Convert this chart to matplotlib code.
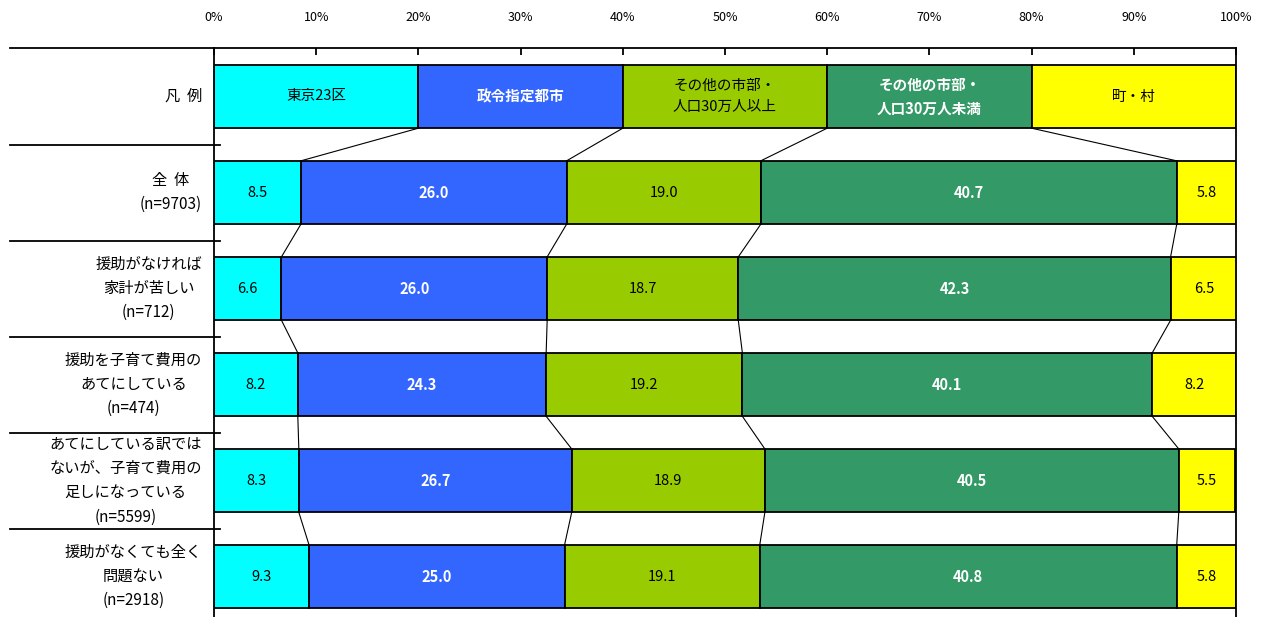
import numpy as np
import matplotlib.pyplot as plt
from matplotlib.transforms import blended_transform_factory

plt.rcParams['font.family'] = ['Noto Sans CJK JP', 'DejaVu Sans']

areas = ["東京23区", "政令指定都市", "その他の市部・\n人口30万人以上",
         "その他の市部・\n人口30万人未満", "町・村"]
colors = ["#00FFFF", "#3366FF", "#99CC00", "#339966", "#FFFF00"]
text_colors = ["black", "white", "black", "white", "black"]
text_weights = ["normal", "bold", "normal", "bold", "normal"]

row_labels = [
    "凡  例",
    "全  体\n(n=9703)",
    "援助がなければ\n家計が苦しい\n(n=712)",
    "援助を子育て費用の\nあてにしている\n(n=474)",
    "あてにしている訳では\nないが、子育て費用の\n足しになっている\n(n=5599)",
    "援助がなくても全く\n問題ない\n(n=2918)",
]

legend_share = [20, 20, 20, 20, 20]
values = np.array([
    [8.5, 26.0, 19.0, 40.7, 5.8],
    [6.6, 26.0, 18.7, 42.3, 6.5],
    [8.2, 24.3, 19.2, 40.1, 8.2],
    [8.3, 26.7, 18.9, 40.5, 5.5],
    [9.3, 25.0, 19.1, 40.8, 5.8],
])

W, H = 1261, 617
fig = plt.figure(figsize=(W / 100, H / 100), dpi=100)
ax = fig.add_axes([214 / W, 0, (1236 - 214) / W, 1 - 48 / H])

bar_h = 0.66
n_rows = len(row_labels)
ax.set_xlim(0, 100)
ax.set_ylim(5.42, -0.505)

all_rows = [legend_share] + [list(v) for v in values]
for i, row in enumerate(all_rows):
    left = 0
    for j, v in enumerate(row):
        ax.barh(i, v, left=left, height=bar_h, color=colors[j],
                edgecolor="black", linewidth=1.3, zorder=2)
        if i == 0:
            txt, fs = areas[j], 10.5
        else:
            txt, fs = f"{v:.1f}", 10.5
        ax.text(left + v / 2, i, txt, ha="center", va="center",
                color=text_colors[j], fontsize=fs,
                fontweight=text_weights[j], linespacing=1.6, zorder=3)
        left += v

# connector lines between neighbouring bars
for i in range(n_rows - 1):
    c0 = np.cumsum(all_rows[i])[:-1]
    c1 = np.cumsum(all_rows[i + 1])[:-1]
    for a, b in zip(c0, c1):
        ax.plot([a, b], [i + bar_h / 2, i + 1 - bar_h / 2],
                color="black", linewidth=0.8, zorder=1)

# row labels and separators on the left
trans = blended_transform_factory(fig.transFigure, ax.transData)
for i, lab in enumerate(row_labels):
    ax.text(202 / W, i, lab, transform=trans, ha="right", va="center",
            multialignment="center", fontsize=11, linespacing=1.55)
for i in range(n_rows - 1):
    ax.plot([10 / W, 220 / W], [i + 0.5, i + 0.5], transform=trans,
            color="black", linewidth=1.3, clip_on=False)
ax.plot([10 / W, 214 / W], [1 - 48 / H, 1 - 48 / H], transform=fig.transFigure,
        color="black", linewidth=1.3, clip_on=False)

ax.xaxis.tick_top()
ax.set_xticks(np.arange(0, 101, 10))
ax.set_xticklabels([f"{t}%" for t in range(0, 101, 10)], fontsize=9)
ax.tick_params(axis="x", direction="in", length=5, width=1.3, pad=17)
ax.set_yticks([])
ax.spines["bottom"].set_visible(False)
for s in ["top", "left", "right"]:
    ax.spines[s].set_linewidth(1.3)

fig.savefig("out.png", dpi=100)
